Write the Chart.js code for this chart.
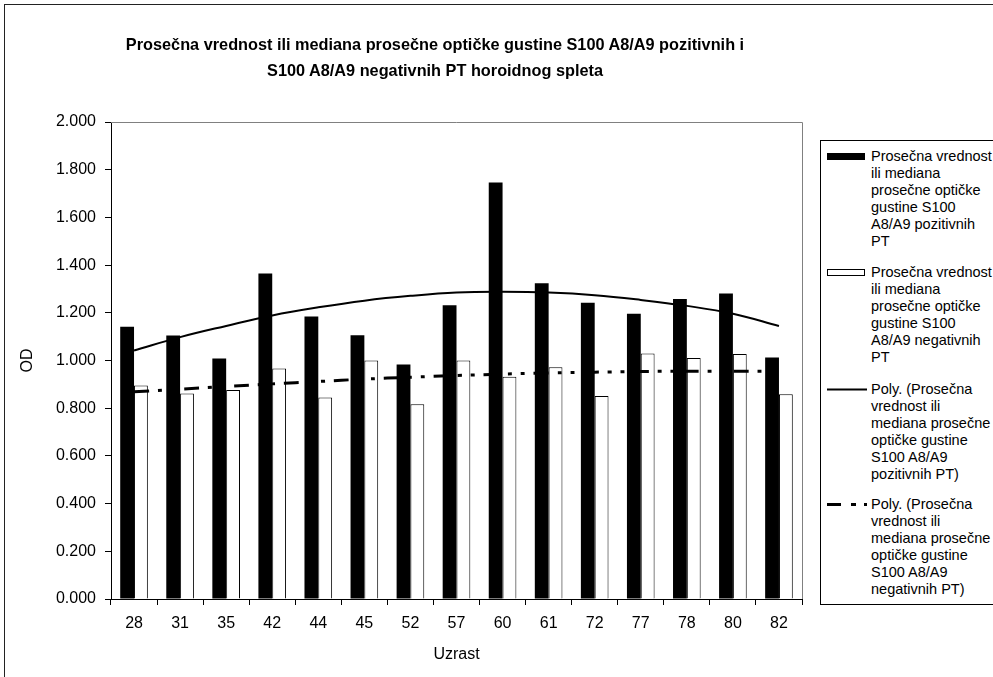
<!DOCTYPE html>
<html>
<head>
<meta charset="utf-8">
<script src="https://cdn.jsdelivr.net/npm/chart.js@4.4.1/dist/chart.umd.min.js"></script>
<style>
  html, body { margin: 0; padding: 0; background: #fff; }
  body { width: 993px; height: 677px; position: relative; overflow: hidden; font-family: "Liberation Sans", Arial, sans-serif; }
  #frame { position: absolute; left: 4px; top: 4px; width: 1000px; height: 700px; border-left: 1px solid #222; border-top: 1px solid #222; }
  #chart { position: absolute; left: 0; top: 0; }
  #title { position: absolute; left: 0; width: 870px; top: 31px; text-align: center; font-weight: bold; font-size: 16.3px; line-height: 26px; color: #000; }
  #legend { position: absolute; left: 820px; top: 140px; width: 200px; height: 463px; border: 1px solid #000; background: #fff; }
  .item { position: absolute; left: 0; width: 200px; font-size: 14.5px; line-height: 17px; color: #000; }
  .item svg { position: absolute; left: 6px; top: 0; }
  .item .txt { position: absolute; left: 50px; top: 0; white-space: nowrap; }
</style>
</head>
<body>
<div id="frame"></div>
<canvas id="chart" width="993" height="677"></canvas>
<div id="title">Prosečna vrednost ili mediana prosečne optičke gustine S100 A8/A9 pozitivnih i<br>S100 A8/A9 negativnih PT horoidnog spleta</div>
<div id="legend"></div>
<script>
// Uzrast (kategorije)
const ages = ['28', '31', '35', '42', '44', '45', '52', '57', '60', '61', '72', '77', '78', '80', '82'];

// Prosečna OD - pozitivni i negativni PT
const positive = [1.142, 1.105, 1.008, 1.365, 1.184, 1.106, 0.983, 1.232, 1.746, 1.324, 1.242, 1.196, 1.258, 1.281, 1.013];
const negative = [0.895, 0.862, 0.876, 0.966, 0.845, 1.000, 0.817, 1.000, 0.932, 0.972, 0.851, 1.029, 1.010, 1.027, 0.859];

// Poly. trend linije (očitane sa slike)
const trendPositive = [1.042, 1.098, 1.145, 1.189, 1.223, 1.251, 1.271, 1.285, 1.288, 1.285, 1.274, 1.254, 1.229, 1.196, 1.145];
const trendNegative = [0.869, 0.880, 0.891, 0.902, 0.912, 0.922, 0.930, 0.937, 0.943, 0.948, 0.951, 0.954, 0.955, 0.955, 0.955];

// Y osa
const yTicks = [0, 0.2, 0.4, 0.6, 0.8, 1.0, 1.2, 1.4, 1.6, 1.8, 2.0];

const labelPos = 'Prosečna vrednost ili mediana prosečne optičke gustine S100 A8/A9 pozitivnih PT';
const labelNeg = 'Prosečna vrednost ili mediana prosečne optičke gustine S100 A8/A9 negativnih PT';

// Legenda (prelomi redova kao na slici)
const legendItems = [
  { top: 6.5, type: 'fill', lines: ['Prosečna vrednost', 'ili mediana', 'prosečne optičke', 'gustine S100', 'A8/A9 pozitivnih', 'PT'] },
  { top: 122.5, type: 'empty', lines: ['Prosečna vrednost', 'ili mediana', 'prosečne optičke', 'gustine S100', 'A8/A9 negativnih', 'PT'] },
  { top: 239.5, type: 'solid', lines: ['Poly. (Prosečna', 'vrednost ili', 'mediana prosečne', 'optičke gustine', 'S100 A8/A9', 'pozitivnih PT)'] },
  { top: 354.5, type: 'dash', lines: ['Poly. (Prosečna', 'vrednost ili', 'mediana prosečne', 'optičke gustine', 'S100 A8/A9', 'negativnih PT)'] }
];

const legendEl = document.getElementById('legend');
legendItems.forEach((it) => {
  const d = document.createElement('div');
  d.className = 'item';
  d.style.top = it.top + 'px';
  let svg = '';
  if (it.type === 'fill') svg = '<rect x="0.5" y="5.5" width="37" height="6" fill="#000" stroke="#000"/>';
  if (it.type === 'empty') svg = '<rect x="0.5" y="5.5" width="37" height="6" fill="#fff" stroke="#000"/>';
  if (it.type === 'solid') svg = '<line x1="0" y1="8.5" x2="40" y2="8.5" stroke="#000" stroke-width="2"/>';
  if (it.type === 'dash') svg = '<line x1="0" y1="8.5" x2="42" y2="8.5" stroke="#000" stroke-width="3" stroke-dasharray="14 10 5 8 3 6"/>';
  d.innerHTML = '<svg width="44" height="18">' + svg + '</svg><div class="txt">' + it.lines.join('<br>') + '</div>';
  legendEl.appendChild(d);
});

// Sivi okvir oko površine grafikona (gore i desno)
const plotFrame = {
  id: 'plotFrame',
  beforeDatasetsDraw(chart) {
    const { ctx, chartArea: a } = chart;
    ctx.save();
    ctx.strokeStyle = '#808080';
    ctx.lineWidth = 1;
    ctx.beginPath();
    ctx.moveTo(a.left, a.top + 0.5);
    ctx.lineTo(a.right + 0.5, a.top + 0.5);
    ctx.lineTo(a.right + 0.5, a.bottom);
    ctx.stroke();
    ctx.restore();
  }
};

const font = { family: '"Liberation Sans", Arial, sans-serif', size: 16 };

new Chart(document.getElementById('chart'), {
  type: 'bar',
  data: {
    labels: ages,
    datasets: [
      {
        type: 'line', label: 'Poly. (' + labelPos + ')', data: trendPositive,
        borderColor: '#000', borderWidth: 2, pointRadius: 0, tension: 0.4, fill: false, order: 0
      },
      {
        type: 'line', label: 'Poly. (' + labelNeg + ')', data: trendNegative,
        borderColor: '#000', borderWidth: 3, borderDash: [15, 9, 4, 9, 4, 9], pointRadius: 0, tension: 0.4, fill: false, order: 0
      },
      {
        label: labelPos, data: positive, backgroundColor: '#000', borderColor: '#000', borderWidth: 0,
        categoryPercentage: 0.6, barPercentage: 1.0, order: 1
      },
      {
        label: labelNeg, data: negative, backgroundColor: '#fff', borderColor: '#000', borderWidth: 1,
        categoryPercentage: 0.6, barPercentage: 1.0, order: 1
      }
    ]
  },
  options: {
    responsive: false,
    animation: false,
    layout: { padding: { left: 4, right: 191, top: 122, bottom: 0 } },
    plugins: {
      legend: { display: false },
      title: { display: false },
      tooltip: { enabled: false }
    },
    scales: {
      x: {
        grid: { offset: true, drawOnChartArea: false, drawTicks: true, tickLength: 6, color: '#000' },
        border: { display: true, color: '#000', width: 1 },
        ticks: { color: '#000', font: font, padding: 9, maxRotation: 0 },
        title: { display: true, text: 'Uzrast', color: '#000', font: font, padding: { top: 0, bottom: 13 } },
        afterFit(scale) { scale.height = 78; }
      },
      y: {
        min: 0, max: 2,
        afterBuildTicks(scale) { scale.ticks = yTicks.map((v) => ({ value: v })); },
        grid: { drawOnChartArea: false, drawTicks: true, tickLength: 6, color: '#000' },
        border: { display: true, color: '#000', width: 1 },
        ticks: { color: '#000', font: font, padding: 9, callback: (v) => Number(v).toFixed(3) },
        title: { display: true, text: 'OD', color: '#000', font: font, padding: { top: 14, bottom: 0 } },
        afterFit(scale) { scale.width = 107; }
      }
    }
  },
  plugins: [plotFrame]
});
</script>
</body>
</html>
